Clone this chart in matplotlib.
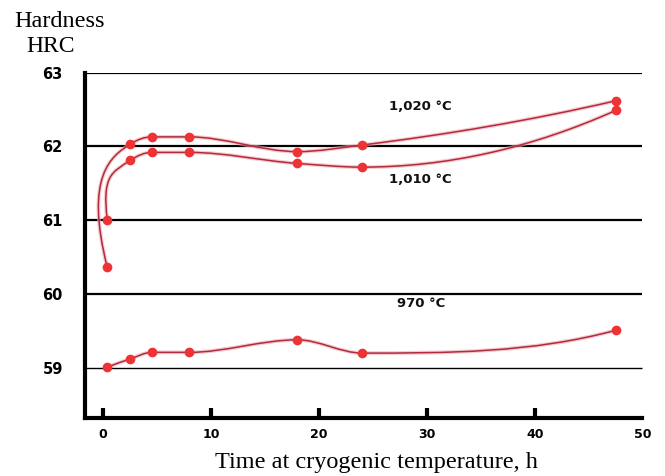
import numpy as np
import matplotlib
matplotlib.use("Agg")
import matplotlib.pyplot as plt
from matplotlib.path import Path
from matplotlib.patches import PathPatch

# hours at cryogenic temperature
hours = [0.4, 2.5, 4.5, 8, 18, 24, 47.5]

hrc_1020 = [60.36, 62.03, 62.13, 62.13, 61.93, 62.02, 62.62]
hrc_1010 = [61.0, 61.81, 61.92, 61.92, 61.77, 61.72, 62.49]
hrc_970 = [59.01, 59.12, 59.21, 59.21, 59.38, 59.2, 59.51]

series_labels = ["1,020 °C", "1,010 °C", "970 °C"]
label_pos = [(29.4, 62.535), (29.4, 61.55), (29.5, 59.87)]

x_ticks = [0, 10, 20, 30, 40]
y_ticks = [59, 60, 61, 62, 63]

line_col = "#b02c3c"
dot_col = "#ee3336"


def end_slope(h0, h1, d0, d1):
    m = ((2 * h0 + h1) * d0 - h0 * d1) / (h0 + h1)
    if np.sign(m) != np.sign(d0):
        m = 0.0
    elif np.sign(d0) != np.sign(d1) and abs(m) > abs(3 * d0):
        m = 3 * d0
    return m


def pchip_slopes(x, y):
    h = np.diff(x)
    d = np.diff(y) / h
    m = np.zeros(len(x))
    for i in range(1, len(x) - 1):
        if d[i - 1] * d[i] <= 0:
            m[i] = 0.0
        else:
            w1 = 2 * h[i] + h[i - 1]
            w2 = h[i] + 2 * h[i - 1]
            m[i] = (w1 + w2) / (w1 / d[i - 1] + w2 / d[i])
    m[0] = end_slope(h[0], h[1], d[0], d[1])
    m[-1] = end_slope(h[-1], h[-2], d[-1], d[-2])
    return m


def smooth_path(xs, ys, hook=False):
    x = np.asarray(xs, float)
    y = np.asarray(ys, float)
    m = pchip_slopes(x, y)
    verts = [(x[0], y[0])]
    codes = [Path.MOVETO]
    for i in range(len(x) - 1):
        dx = x[i + 1] - x[i]
        if i == 0 and hook:
            # steep rise from the first reading, bends over like the original
            dy = y[1] - y[0]
            c1 = (x[0] - 0.78 * dy ** 2, y[0] + 0.75 * dy)
            c2 = (x[1] - 0.8 * dx, y[1] - m[1] * 0.8 * dx)
        else:
            c1 = (x[i] + dx / 3, y[i] + m[i] * dx / 3)
            c2 = (x[i + 1] - dx / 3, y[i + 1] - m[i + 1] * dx / 3)
        verts += [c1, c2, (x[i + 1], y[i + 1])]
        codes += [Path.CURVE4] * 3
    return Path(verts, codes)


fig = plt.figure(figsize=(6.65, 4.76), dpi=100)
ax = fig.add_axes([0.1278, 0.1218, 0.8472, 0.7255])
ax.set_xlim(-1.67, 50.5)
ax.set_ylim(58.32, 63)

# horizontal rules
for y in y_ticks:
    lw = 1.0 if y == 59 else 1.6
    ax.hlines(y, -1.67, 49.9, colors="black", linewidth=lw, zorder=1)

for ys, hook in [(hrc_1020, True), (hrc_1010, True), (hrc_970, False)]:
    p = smooth_path(hours, ys, hook)
    ax.add_patch(PathPatch(p, facecolor="none", edgecolor="#f4a8b0", linewidth=2.8, alpha=0.6, zorder=2))
    ax.add_patch(PathPatch(p, facecolor="none", edgecolor=line_col, linewidth=1.1, zorder=3))
    ax.plot(hours, ys, "o", color=dot_col, markersize=7, markeredgewidth=0, zorder=4)

for lab, (tx, ty) in zip(series_labels, label_pos):
    ax.text(tx, ty, lab, fontsize=9.5, fontweight="bold", family="DejaVu Sans",
            ha="center", va="center", color="#111111")

ax.spines["top"].set_visible(False)
ax.spines["right"].set_visible(False)
ax.spines["left"].set_linewidth(3.0)
ax.spines["bottom"].set_linewidth(3.0)
ax.spines["bottom"].set_bounds(-1.67, 49.9)

ax.set_xticks(x_ticks)
ax.set_xticklabels([str(t) for t in x_ticks])
ax.set_xticks([50], minor=True)
ax.set_xticklabels(["50"], minor=True)
ax.tick_params(axis="x", which="major", direction="in", length=7, width=3, pad=7)
ax.tick_params(axis="x", which="minor", length=0, pad=7)
ax.set_yticks(y_ticks)
ax.set_yticklabels([str(t) for t in y_ticks])
ax.tick_params(axis="y", length=0, pad=16)
for lbl in ax.get_xticklabels(which="both"):
    lbl.set_fontsize(9)
    lbl.set_fontweight("bold")
for lbl in ax.get_yticklabels():
    lbl.set_fontsize(10.5)
    lbl.set_fontweight("bold")

fig.text(0.566, 0.0168, "Time at cryogenic temperature, h", family="Liberation Serif",
         fontsize=17.5, ha="center", va="baseline")
fig.text(0.022, 0.943, "Hardness", family="Liberation Serif", fontsize=17.5, va="baseline")
fig.text(0.04, 0.891, "HRC", family="Liberation Serif", fontsize=17, va="baseline")

fig.savefig("out.png", dpi=100)
